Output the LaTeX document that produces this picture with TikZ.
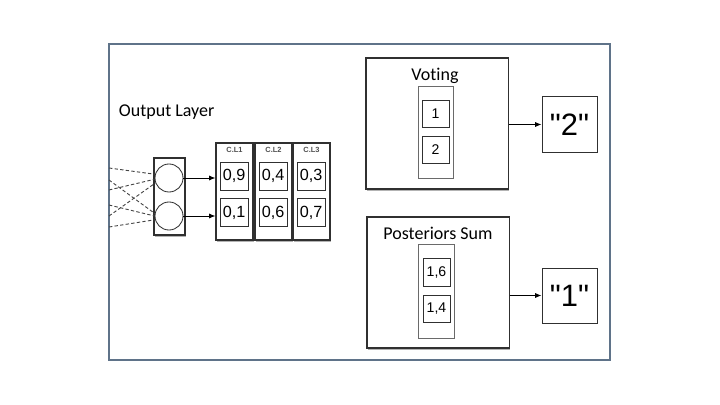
\documentclass[tikz,border=0pt]{standalone}
\usepackage{fontspec}
\setmainfont{Carlito}[Ligatures=NoCommon]
\newfontfamily\numfont{Liberation Sans}
\usetikzlibrary{positioning,arrows.meta,shadows}
\definecolor{frameblue}{HTML}{5F7389}
\definecolor{boxline}{HTML}{303030}
\definecolor{colline}{HTML}{6A6A6A}
\tikzset{
  shadowbox/.style={draw=boxline, fill=white, line width=0.75pt, inner sep=0pt,
    drop shadow={shadow xshift=0.8pt, shadow yshift=-1.5pt, opacity=0.6}},
  valbox/.style={draw=boxline, fill=white, line width=0.6pt, inner sep=0pt,
    minimum width=0.7cm, minimum height=0.7cm, font=\numfont\fontsize{11.5}{13}\selectfont},
  smallbox/.style={draw=boxline, fill=white, line width=0.55pt, inner sep=0pt,
    minimum width=0.675cm, minimum height=0.69cm, font=\numfont\fontsize{10}{11}\selectfont},
  colbox/.style={draw=colline, fill=white, line width=0.55pt, inner sep=0pt},
  resbox/.style={draw=boxline, fill=white, line width=0.7pt, inner sep=0pt,
    minimum width=1.375cm, minimum height=1.375cm, font=\numfont\fontsize{22}{24}\selectfont},
  neuron/.style={circle, draw=boxline, line width=0.6pt, inner sep=0pt, minimum size=0.7cm},
  cllabel/.style={font=\numfont\bfseries\fontsize{5.3}{6}\selectfont, text=boxline!85},
  title/.style={font=\fontsize{12.8}{14}\selectfont},
  wire/.style={draw=boxline!90, line width=0.65pt, dash pattern=on 2.4pt off 1.6pt},
  link/.style={draw=black, line width=0.6pt, -{Latex[length=4.5pt,width=3.6pt]}}
}
\begin{document}
\begin{tikzpicture}[x=0.025cm,y=-0.025cm]
\useasboundingbox (0,0) rectangle (720,405);
\draw[frameblue, line width=0.9pt] (109,44) rectangle (610,360);

\node[title, anchor=west] (lbl) at (114,112) {Output Layer};

\node[shadowbox, minimum width=0.775cm, minimum height=1.925cm] (layer) at (169.5,196.5) {};
\node[neuron] (n1) at (169,178) {};
\node[neuron] (n2) at (169,216) {};

\coordinate (in1) at (109,168);
\coordinate (in2) at (109,180);
\coordinate (in3) at (109,190);
\coordinate (in4) at (109,205);
\coordinate (in5) at (109,216);
\coordinate (in6) at (109,227);
\draw[wire] (in1) -- (n1.165);
\draw[wire] (in2) -- (n2.170);
\draw[wire] (in3) -- (n1.185);
\draw[wire] (in4) -- (n2.180);
\draw[wire] (in5) -- (n1.200);
\draw[wire] (in6) -- (n2.195);

\node[shadowbox, minimum width=0.925cm, minimum height=2.425cm] (cl1) at (234.5,191.5) {};
\node[shadowbox, minimum width=0.925cm, minimum height=2.425cm] (cl2) at (273.5,191.5) {};
\node[shadowbox, minimum width=0.925cm, minimum height=2.425cm] (cl3) at (311.5,191.5) {};
\node[cllabel] at (234.5,150) {C.L1};
\node[cllabel] at (273.5,150) {C.L2};
\node[cllabel] at (311.5,150) {C.L3};
\node[valbox] (cl1a) at (234,176) {0,9};
\node[valbox] (cl1b) at (234,212.5) {0,1};
\node[valbox] (cl2a) at (273,176) {0,4};
\node[valbox] (cl2b) at (273,212.5) {0,6};
\node[valbox] (cl3a) at (311,176) {0,3};
\node[valbox] (cl3b) at (311,212.5) {0,7};

\draw[link] (n1.east) -- (n1.east -| cl1.west);
\draw[link] (n2.east) -- (n2.east -| cl1.west);

\node[shadowbox, minimum width=3.55cm, minimum height=3.275cm] (vote) at (437,123.5) {};
\node[title] (votelbl) at (435,75.5) {Voting};
\node[colbox, minimum width=0.875cm, minimum height=2.3cm] (votecol) at (435.5,132) {};
\node[smallbox, minimum height=0.675cm] (vote1) at (435.5,113.5) {1};
\node[smallbox, minimum height=0.675cm] (vote2) at (435.5,149.5) {2};
\node[resbox] (out2) at (569.5,124.5) {"2"};
\draw[link] (vote.east |- out2.west) -- (out2.west);

\node[shadowbox, minimum width=3.55cm, minimum height=3.275cm] (post) at (438,282.5) {};
\node[title] (postlbl) at (438,233) {Posteriors Sum};
\node[colbox, minimum width=0.9cm, minimum height=2.35cm] (postcol) at (436,291) {};
\node[smallbox] (post1) at (436.5,272.5) {1,6};
\node[smallbox] (post2) at (436.5,309) {1,4};
\node[resbox] (out1) at (569.5,295.5) {"1"};
\draw[link] (post.east |- out1.west) -- (out1.west);
\end{tikzpicture}
\end{document}
